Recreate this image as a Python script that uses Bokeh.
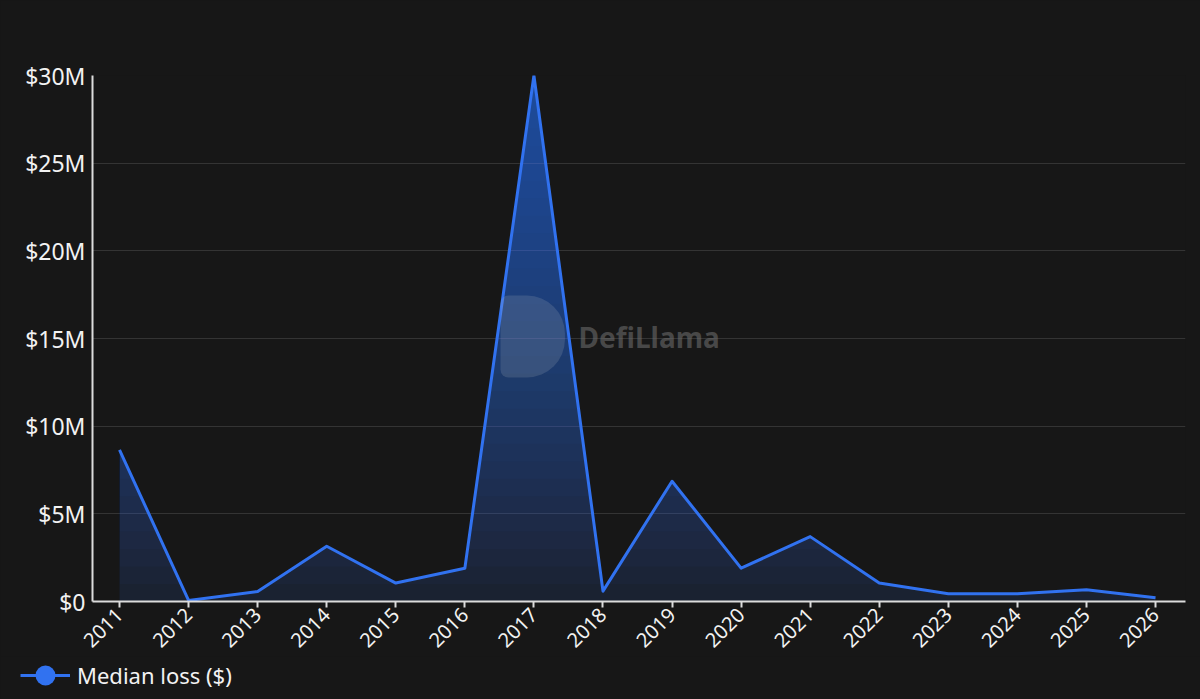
import numpy as np
from bokeh.plotting import figure
from bokeh.layouts import column, row
from bokeh.models import FixedTicker, Legend, LegendItem, Label, Range1d
from bokeh.embed import file_html
from bokeh.resources import INLINE

# ---- data ----
years = [2011, 2012, 2013, 2014, 2015, 2016, 2017, 2018,
         2019, 2020, 2021, 2022, 2023, 2024, 2025, 2026]
median_loss = [8.65e6, 0.06e6, 0.57e6, 3.15e6, 1.05e6, 1.9e6, 30.0e6, 0.59e6,
               6.86e6, 1.9e6, 3.7e6, 1.05e6, 0.44e6, 0.44e6, 0.67e6, 0.21e6]
x_tick_labels = ["2011", "2012", "2013", "2014", "2015", "2016", "2017", "2018",
                 "2019", "2020", "2021", "2022", "2023", "2024", "2025", "2026"]
y_ticks = [0, 5000000, 10000000, 15000000, 20000000, 25000000, 30000000]
y_tick_labels = ["$0", "$5M", "$10M", "$15M", "$20M", "$25M", "$30M"]
series_name = "Median loss ($)"

BG = "#171717"
BLUE = "#3172f0"
FONT = "Noto Sans"

p = figure(width=1200, height=656, output_backend="svg", toolbar_location=None,
           x_range=Range1d(2010.609, 2026.434), y_range=Range1d(0, 30e6),
           min_border_left=92, min_border_right=15, min_border_top=75, min_border_bottom=55)
p.background_fill_color = BG
p.border_fill_color = BG
p.outline_line_color = None


def band_above(level):
    """Part of the area under the series that lies above `level`."""
    xs, ys = [], []
    for i in range(len(years)):
        if i > 0:
            a0 = median_loss[i - 1] - level
            a1 = median_loss[i] - level
            if a0 * a1 < 0:
                f = a0 / (a0 - a1)
                xs.append(years[i - 1] + f * (years[i] - years[i - 1]))
                ys.append(level)
        xs.append(years[i])
        ys.append(max(median_loss[i], level))
    return xs, ys


# gradient-like fill: base layer + stacked translucent layers
p.varea(x=years, y1=0, y2=median_loss, fill_color=BLUE, fill_alpha=0.12)
ymax = max(median_loss)
step = 1e6
lvl = step
while lvl < ymax:
    bx, by = band_above(lvl)
    p.varea(x=bx, y1=lvl, y2=by, fill_color=BLUE, fill_alpha=0.0355)
    lvl += step

p.line(years, median_loss, line_color=BLUE, line_width=3, line_join="round")

# axes
p.xaxis.ticker = FixedTicker(ticks=years)
p.xaxis.major_label_overrides = {y: s for y, s in zip(years, x_tick_labels)}
p.xaxis.major_label_orientation = np.pi / 4
p.yaxis.ticker = FixedTicker(ticks=y_ticks)
p.yaxis.major_label_overrides = {t: s for t, s in zip(y_ticks, y_tick_labels)}

for ax in (p.xaxis, p.yaxis):
    ax.axis_line_color = "#dcdcdc"
    ax.axis_line_width = 2
    ax.major_tick_line_color = "#dcdcdc"
    ax.major_tick_line_width = 2
    ax.minor_tick_line_color = None
    ax.major_label_text_color = "#f2f2f2"
    ax.major_label_text_font = FONT
    ax.major_tick_in = 0

p.xaxis.major_tick_out = 6
p.xaxis.major_label_standoff = 4
p.xaxis.major_label_text_font_size = "20px"
p.yaxis.major_tick_out = 0
p.yaxis.major_label_standoff = 7
p.yaxis.major_label_text_font_size = "23px"

p.xgrid.grid_line_color = None
p.ygrid.grid_line_color = "#343434"
p.ygrid.grid_line_width = 1

# watermark
logo = Label(x=408, y=265, x_units="screen", y_units="screen", text="D",
             text_font=FONT, text_font_size="28px", text_color="#b8bcc4", text_alpha=0.01,
             text_baseline="middle", padding=22,
             background_fill_color="#b8bcc4", background_fill_alpha=0.18,
             border_radius=(8, 38, 38, 8))
p.add_layout(logo)
wm = Label(x=486, y=265, x_units="screen", y_units="screen", text="DefiLlama",
           text_font=FONT, text_font_style="bold", text_font_size="28px",
           text_color="#6a6a6a", text_alpha=0.6, text_baseline="middle")
p.add_layout(wm)

# legend strip below the chart
lg = figure(width=1200, height=43, output_backend="svg", toolbar_location=None,
            x_range=Range1d(0, 1), y_range=Range1d(0, 1),
            x_axis_type=None, y_axis_type=None, min_border=0,
            min_border_left=0, min_border_right=0, min_border_top=0, min_border_bottom=0)
lg.background_fill_color = BG
lg.border_fill_color = BG
lg.outline_line_color = None
lg.grid.visible = False
l_line = lg.line(years, median_loss, line_color=BLUE, line_width=3)
l_dot = lg.scatter(years, median_loss, size=0, fill_color=BLUE, line_color=None)
legend = Legend(items=[LegendItem(label=series_name, renderers=[l_line, l_dot])],
                location=(20, -1), orientation="horizontal",
                glyph_width=50, glyph_height=50, label_standoff=7,
                label_text_font=FONT, label_text_font_size="22px",
                label_text_color="#f2f2f2", background_fill_alpha=0,
                border_line_alpha=0, padding=0, margin=0, spacing=0)
lg.add_layout(legend)

page = column(p, row(lg, spacing=0), spacing=0)
html = file_html(page, INLINE, title="Median loss")
html = html.replace("</head>", "<style>body{background:%s;}</style></head>" % BG, 1)
open("out.html", "w").write(html)
